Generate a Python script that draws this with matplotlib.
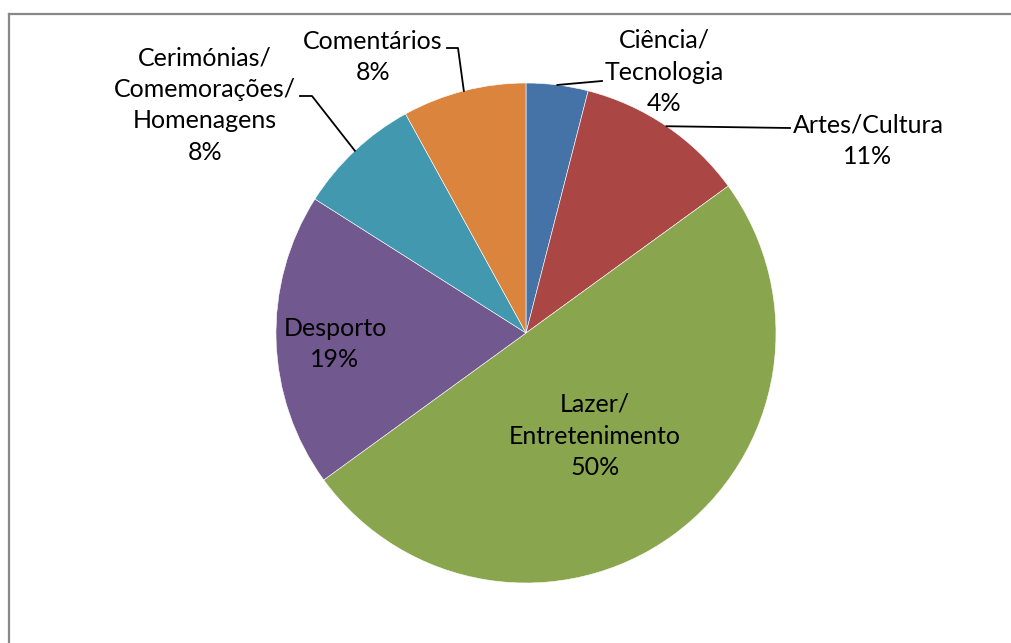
import numpy as np
import matplotlib
matplotlib.use("Agg")
import matplotlib.pyplot as plt
from matplotlib.lines import Line2D

# data, clockwise from 12 o'clock
labels = ["Ciência/\nTecnologia", "Artes/Cultura", "Lazer/\nEntretenimento",
          "Desporto", "Cerimónias/\nComemorações/\nHomenagens", "Comentários"]
shares = [4, 11, 50, 19, 8, 8]
colors = ["#4572A7", "#AA4643", "#89A54E", "#71588F", "#4198AF", "#DB843D"]

W, H = 1011, 643
fig = plt.figure(figsize=(W / 100, H / 100), dpi=100)
fig.patch.set_facecolor("white")

# chart frame: only left and top edges show in the crop
fig.add_artist(Line2D([8.5 / W, 8.5 / W], [0, 1 - 13.5 / H], color="#888888", lw=1.6))
fig.add_artist(Line2D([8.5 / W, 1], [1 - 13.5 / H, 1 - 13.5 / H], color="#888888", lw=1.6))

# pie box: centre (526, 333) px, radius 250 px
cx, cy, R = 526, 333, 250
ax = fig.add_axes([(cx - R) / W, (H - cy - R) / H, 2 * R / W, 2 * R / H])
wedges, _ = ax.pie(shares, colors=colors, startangle=90, counterclock=False,
                   wedgeprops=dict(linewidth=0.4, edgecolor="white"))
ax.set_xlim(-1, 1)
ax.set_ylim(-1, 1)
ax.axis("off")

font = dict(family=["Lato", "DejaVu Sans"], size=18, color="black")


def px(x, y):
    # pixel position -> pie data coords
    return (x - cx) / R, (cy - y) / R


# label centres and leader paths (pixel layout)
label_pos = [(664, 72), (868, 141), (595, 436), (335, 344), (205, 105), (373, 57)]
leaders = {
    0: [(602, 81)],
    1: [(790, 128)],
    4: [(312, 96), (300, 96)],
    5: [(458, 48), (447, 48)],
}

total = float(sum(shares))
start = 90.0
for i, (lab, v) in enumerate(zip(labels, shares)):
    mid = start - 360 * v / total / 2
    start -= 360 * v / total
    pct = "%d%%" % round(100 * v / total)
    tx, ty = px(*label_pos[i])
    ax.text(tx, ty, lab + "\n" + pct, ha="center", va="center",
            linespacing=1.45, clip_on=False, **font)
    if i in leaders:
        ex, ey = np.cos(np.radians(mid)), np.sin(np.radians(mid))
        pts = [(ex, ey)] + [px(*p) for p in leaders[i]]
        xs, ys = zip(*pts)
        ax.plot(xs, ys, color="black", lw=1.3, clip_on=False)

fig.savefig("out.png", dpi=100)
